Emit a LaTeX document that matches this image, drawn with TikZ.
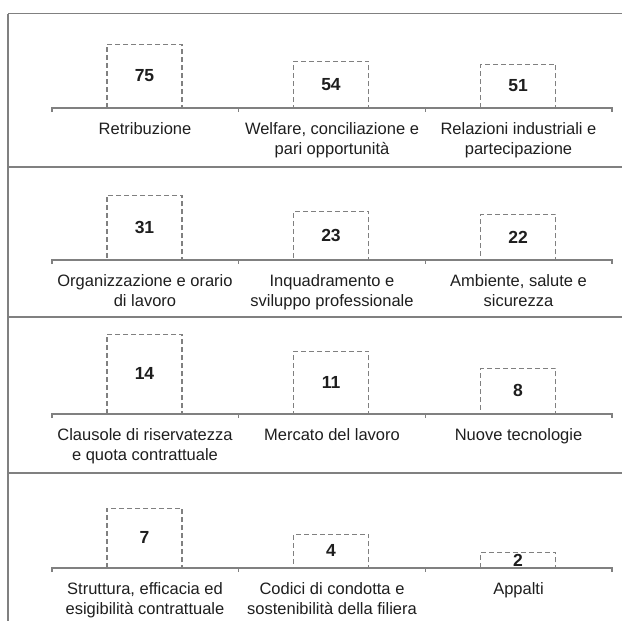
\documentclass[tikz,border=0pt]{standalone}
\usepackage{fontspec}
\setmainfont{Liberation Sans}
\usetikzlibrary{positioning}
\definecolor{rulegrey}{RGB}{128,128,128}
\definecolor{labelgrey}{RGB}{30,30,30}

\begin{document}
\begin{tikzpicture}[x=1pt, y=-1pt,
    bar/.style={draw=rulegrey, dash pattern=on 5pt off 3pt, line width=1.1pt,
      minimum width=75pt, inner sep=0pt, anchor=south, text=labelgrey,
      font=\fontsize{17.5}{19}\selectfont\bfseries},
    cat/.style={anchor=north, align=center, inner sep=0pt, text=labelgrey,
      font=\fontsize{16.5}{20}\selectfont},
    axis/.style={draw=rulegrey, line width=1.4pt},
    frame/.style={draw=rulegrey, line width=1.6pt}]
  \useasboundingbox (0,0) rectangle (622,621);

  % frame and row separators
  \coordinate (top l) at (8,13.5);   \coordinate (top r) at (622,13.5);
  \coordinate (bot l) at (8,621);
  \coordinate (sep1 l) at (8,167);   \coordinate (sep1 r) at (622,167);
  \coordinate (sep2 l) at (8,317);   \coordinate (sep2 r) at (622,317);
  \coordinate (sep3 l) at (8,473);   \coordinate (sep3 r) at (622,473);
  \path[frame] (top l) -- (top r)  (top l) -- (bot l)
    (sep1 l) -- (sep1 r)  (sep2 l) -- (sep2 r)  (sep3 l) -- (sep3 r);

  % row 1
  \node[bar, minimum height=63pt] (ret) at (144.5,108) {75};
  \node[bar, minimum height=46pt] (wel) at (331,108) {54};
  \node[bar, minimum height=43pt] (rel) at (518,108) {51};
  \node[cat] (ret lab) at (145,122) {Retribuzione};
  \node[cat] (wel lab) at (332,122) {Welfare, conciliazione e\\pari opportunità};
  \node[cat] (rel lab) at (518.5,122) {Relazioni industriali e\\partecipazione};
  \coordinate (ax1 l) at (52,108); \coordinate (ax1 r) at (612,108);
  \coordinate (ax1 a) at (238.7,108); \coordinate (ax1 b) at (425.3,108);
  \path[axis] (ax1 l) ++(0,4) -- (ax1 l) -- (ax1 r) -- ++(0,4)
    (ax1 a) -- ++(0,4)  (ax1 b) -- ++(0,4);

  % row 2
  \node[bar, minimum height=64pt] (org) at (144.5,260) {31};
  \node[bar, minimum height=48pt] (inq) at (331,260) {23};
  \node[bar, minimum height=45pt] (amb) at (518,260) {22};
  \node[cat] (org lab) at (145,274) {Organizzazione e orario\\di lavoro};
  \node[cat] (inq lab) at (332,274) {Inquadramento e\\sviluppo professionale};
  \node[cat] (amb lab) at (518.5,274) {Ambiente, salute e\\sicurezza};
  \coordinate (ax2 l) at (52,260); \coordinate (ax2 r) at (612,260);
  \coordinate (ax2 a) at (238.7,260); \coordinate (ax2 b) at (425.3,260);
  \path[axis] (ax2 l) ++(0,4) -- (ax2 l) -- (ax2 r) -- ++(0,4)
    (ax2 a) -- ++(0,4)  (ax2 b) -- ++(0,4);

  % row 3
  \node[bar, minimum height=79pt] (cla) at (144.5,414) {14};
  \node[bar, minimum height=62pt] (mer) at (331,414) {11};
  \node[bar, minimum height=45pt] (nuo) at (518,414) {8};
  \node[cat] (cla lab) at (145,428) {Clausole di riservatezza\\e quota contrattuale};
  \node[cat] (mer lab) at (332,428) {Mercato del lavoro};
  \node[cat] (nuo lab) at (518.5,428) {Nuove tecnologie};
  \coordinate (ax3 l) at (52,414); \coordinate (ax3 r) at (612,414);
  \coordinate (ax3 a) at (238.7,414); \coordinate (ax3 b) at (425.3,414);
  \path[axis] (ax3 l) ++(0,4) -- (ax3 l) -- (ax3 r) -- ++(0,4)
    (ax3 a) -- ++(0,4)  (ax3 b) -- ++(0,4);

  % row 4
  \node[bar, minimum height=59pt] (str) at (144.5,568) {7};
  \node[bar, minimum height=33pt] (cod) at (331,568) {4};
  \node[bar, minimum height=15pt] (app) at (518,568) {2};
  \node[cat] (str lab) at (145,582) {Struttura, efficacia ed\\esigibilità contrattuale};
  \node[cat] (cod lab) at (332,582) {Codici di condotta e\\sostenibilità della filiera};
  \node[cat] (app lab) at (518.5,582) {Appalti};
  \coordinate (ax4 l) at (52,568); \coordinate (ax4 r) at (612,568);
  \coordinate (ax4 a) at (238.7,568); \coordinate (ax4 b) at (425.3,568);
  \path[axis] (ax4 l) ++(0,4) -- (ax4 l) -- (ax4 r) -- ++(0,4)
    (ax4 a) -- ++(0,4)  (ax4 b) -- ++(0,4);
\end{tikzpicture}
\end{document}
